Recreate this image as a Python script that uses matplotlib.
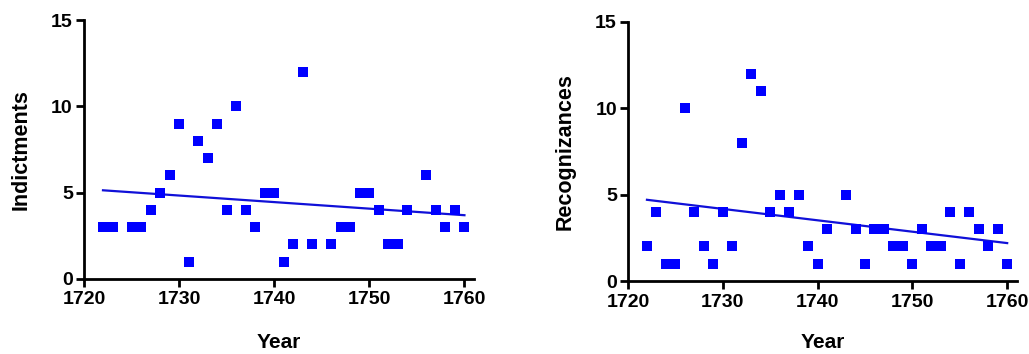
import numpy as np
import matplotlib
matplotlib.use("Agg")
import matplotlib.pyplot as plt

plt.rcParams['font.family'] = ['Liberation Sans', 'DejaVu Sans']

ind_years = [1722, 1723, 1725, 1726, 1727, 1728, 1729, 1730, 1731, 1732, 1733, 1734,
             1735, 1736, 1737, 1738, 1739, 1740, 1741, 1742, 1743, 1744, 1746, 1747,
             1748, 1749, 1750, 1751, 1752, 1753, 1754, 1756, 1757, 1758, 1759, 1760]
indictments = [3, 3, 3, 3, 4, 5, 6, 9, 1, 8, 7, 9,
               4, 10, 4, 3, 5, 5, 1, 2, 12, 2, 2, 3,
               3, 5, 5, 4, 2, 2, 4, 6, 4, 3, 4, 3]

rec_years = [1722, 1723, 1724, 1725, 1726, 1727, 1728, 1729, 1730, 1731, 1732, 1733,
             1734, 1735, 1736, 1737, 1738, 1739, 1740, 1741, 1743, 1744, 1745, 1746,
             1747, 1748, 1749, 1750, 1751, 1752, 1753, 1754, 1755, 1756, 1757, 1758,
             1759, 1760]
recognizances = [2, 4, 1, 1, 10, 4, 2, 1, 4, 2, 8, 12,
                 11, 4, 5, 4, 5, 2, 1, 3, 5, 3, 1, 3,
                 3, 2, 2, 1, 3, 2, 2, 4, 1, 4, 3, 2,
                 3, 1]

x_ticks = [1720, 1730, 1740, 1750, 1760]
y_ticks = [0, 5, 10, 15]

fig = plt.figure(figsize=(10.29, 3.54), dpi=100)
axes = [fig.add_axes([0.0816, 0.2119, 0.379, 0.7316]),
        fig.add_axes([0.6103, 0.2062, 0.3777, 0.7325])]

blue = '#0000FF'
line_blue = '#1010D8'
for ax, xs, ys, lab, lp, xlp in [(axes[0], ind_years, indictments, 'Indictments', 14, 18),
                                 (axes[1], rec_years, recognizances, 'Recognizances', 14, 16)]:
    xs = np.array(xs, float); ys = np.array(ys, float)
    ax.plot(xs, ys, 's', color=blue, markersize=7.3, markeredgewidth=0, clip_on=False, zorder=3)
    m, b = np.polyfit(xs, ys, 1)
    xl = np.array([xs.min(), xs.max()])
    ax.plot(xl, m * xl + b, '-', color=line_blue, lw=1.6, zorder=2)
    ax.set_xlim(1720, 1761)
    ax.set_ylim(0, 15)
    ax.set_xticks(x_ticks)
    ax.set_yticks(y_ticks)
    for s in ['top', 'right']:
        ax.spines[s].set_visible(False)
    for s in ['left', 'bottom']:
        ax.spines[s].set_linewidth(2)
    ax.tick_params(direction='out', length=6, width=2, labelsize=14, pad=2)
    ax.tick_params(axis='x', pad=3)
    for t in ax.get_xticklabels() + ax.get_yticklabels():
        t.set_fontweight('bold')
    ax.set_xlabel('Year', fontsize=15, fontweight='bold', labelpad=xlp)
    ax.set_ylabel(lab, fontsize=15.5, fontweight='bold', labelpad=lp)

fig.savefig('out.png', dpi=100)
